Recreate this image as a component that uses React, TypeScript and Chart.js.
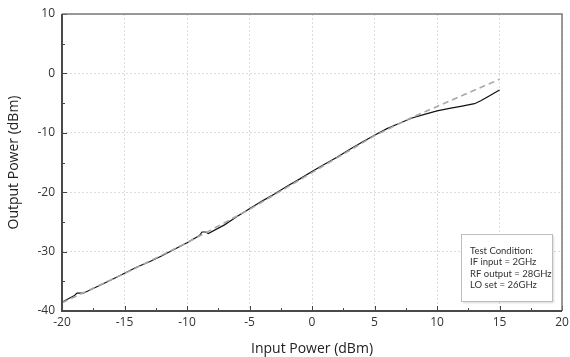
import React, { useEffect, useRef } from "react";
import { Chart, registerables } from "chart.js";

Chart.register(...registerables);

const measuredInput = [-20, -19, -18.8, -18.3, -17, -16, -15, -14, -13, -12, -11, -10, -9, -8.8, -8.5, -8.3, -7, -6, -5, -4, -3, -2, -1, 0, 1, 2, 3, 4, 5, 6, 7, 8, 9, 10, 11, 12, 13, 13.5, 14, 15];
const measuredOutput = [-38.5, -37.4, -37.0, -37.0, -35.7, -34.7, -33.65, -32.6, -31.7, -30.7, -29.6, -28.5, -27.3, -26.7, -26.7, -26.95, -25.5, -24.1, -22.8, -21.5, -20.3, -19.0, -17.8, -16.5, -15.3, -14.1, -12.8, -11.6, -10.4, -9.3, -8.4, -7.5, -6.9, -6.3, -5.9, -5.5, -5.1, -4.6, -4.0, -2.8];
const idealInput = [-20, -15, -10, -5, 0, 5, 8, 15];
const idealOutput = [-38.6, -33.7, -28.5, -22.9, -16.7, -10.5, -7.4, -1.0];

const xTicks = [-20, -15, -10, -5, 0, 5, 10, 15, 20];
const yTicks = [-40, -30, -20, -10, 0, 10];
const conditionLines = ["Test Condition:", "IF input = 2GHz", "RF output = 28GHz", "LO set = 26GHz"];

const FONT = "'Open Sans', 'Noto Sans', sans-serif";
const BOX_FONT = "Lato, 'Open Sans', sans-serif";

const framePlugin = {
  id: "frame",
  afterDraw(chart: any) {
    const { ctx, chartArea: a, scales } = chart;
    const xs = scales.x;
    const ys = scales.y;
    ctx.save();
    ctx.strokeStyle = "#444";
    ctx.lineWidth = 1;
    for (let v = -20; v <= 20; v += 2.5) {
      const px = Math.round(xs.getPixelForValue(v)) + 0.5;
      const len = Math.abs(v % 5) < 1e-6 ? 5 : 3;
      ctx.beginPath();
      ctx.moveTo(px, a.bottom);
      ctx.lineTo(px, a.bottom - len);
      ctx.stroke();
    }
    for (let v = -40; v <= 10; v += 5) {
      const py = Math.round(ys.getPixelForValue(v)) + 0.5;
      const len = Math.abs(v % 10) < 1e-6 ? 5 : 3;
      ctx.beginPath();
      ctx.moveTo(a.left, py);
      ctx.lineTo(a.left + len, py);
      ctx.stroke();
    }
    ctx.strokeStyle = "#7a7a7a";
    ctx.lineWidth = 1.5;
    ctx.beginPath();
    ctx.moveTo(a.left, a.top);
    ctx.lineTo(a.right, a.top);
    ctx.lineTo(a.right, a.bottom);
    ctx.stroke();
    ctx.strokeStyle = "#4a4a4a";
    ctx.lineWidth = 2;
    ctx.beginPath();
    ctx.moveTo(a.left, a.top);
    ctx.lineTo(a.left, a.bottom);
    ctx.lineTo(a.right, a.bottom);
    ctx.stroke();
    const bx = 461.5, by = 234.5, bw = 91, bh = 67;
    ctx.shadowColor = "rgba(0,0,0,0.15)";
    ctx.shadowBlur = 2;
    ctx.shadowOffsetX = 1;
    ctx.shadowOffsetY = 1;
    ctx.fillStyle = "#fff";
    ctx.fillRect(bx, by, bw, bh);
    ctx.shadowColor = "transparent";
    ctx.strokeStyle = "#bdbdbd";
    ctx.lineWidth = 1;
    ctx.strokeRect(bx, by, bw, bh);
    ctx.fillStyle = "#333";
    ctx.font = `9.5px ${BOX_FONT}`;
    ctx.textBaseline = "middle";
    ctx.textAlign = "left";
    conditionLines.forEach((t, i) => {
      ctx.fillText(t, 470, 251 + i * 11.3);
    });
    ctx.restore();
  },
};

export default function App() {
  const ref = useRef<HTMLCanvasElement>(null);
  useEffect(() => {
    document.body.style.margin = "0";
    const canvas = ref.current!;
    const chart = new Chart(canvas, {
      type: "scatter",
      data: {
        datasets: [
          {
            data: idealInput.map((x, i) => ({ x, y: idealOutput[i] })),
            showLine: true,
            borderColor: "#a8a8a8",
            borderWidth: 1.6,
            borderDash: [6, 4],
            pointRadius: 0,
            tension: 0,
          },
          {
            data: measuredInput.map((x, i) => ({ x, y: measuredOutput[i] })),
            showLine: true,
            borderColor: "#111",
            borderWidth: 1.2,
            pointRadius: 0,
            tension: 0,
          },
        ],
      },
      options: {
        responsive: false,
        animation: false,
        layout: { padding: { top: 14, right: 8, left: 0, bottom: 0 } },
        plugins: { legend: { display: false }, tooltip: { enabled: false } },
        scales: {
          x: {
            type: "linear",
            min: -20,
            max: 20,
            afterBuildTicks: (s: any) => {
              s.ticks = xTicks.map((v) => ({ value: v }));
            },
            afterFit: (s: any) => {
              s.height = 46;
              s.paddingRight = 0;
              s.paddingLeft = 0;
            },
            ticks: { color: "#333", font: { family: FONT, size: 12 }, padding: 4 },
            grid: { color: "#dcdcdc", drawTicks: false },
            border: { display: false, dash: [2, 2] },
            title: {
              display: true,
              text: "Input Power (dBm)",
              color: "#222",
              font: { family: FONT, size: 14 },
              padding: { top: 2, bottom: 0 },
            },
          },
          y: {
            type: "linear",
            min: -40,
            max: 10,
            afterBuildTicks: (s: any) => {
              s.ticks = yTicks.map((v) => ({ value: v }));
            },
            afterFit: (s: any) => {
              s.width = 62;
              s.paddingTop = 0;
              s.paddingBottom = 0;
            },
            ticks: { color: "#333", font: { family: FONT, size: 12 }, padding: 7 },
            grid: { color: "#dcdcdc", drawTicks: false },
            border: { display: false, dash: [2, 2] },
            title: {
              display: true,
              text: "Output Power (dBm)",
              color: "#222",
              font: { family: FONT, size: 14 },
              padding: { top: 6, bottom: 0 },
            },
          },
        },
      },
      plugins: [framePlugin],
    });
    return () => chart.destroy();
  }, []);
  return <canvas ref={ref} width={570} height={357} style={{ display: "block" }} />;
}
